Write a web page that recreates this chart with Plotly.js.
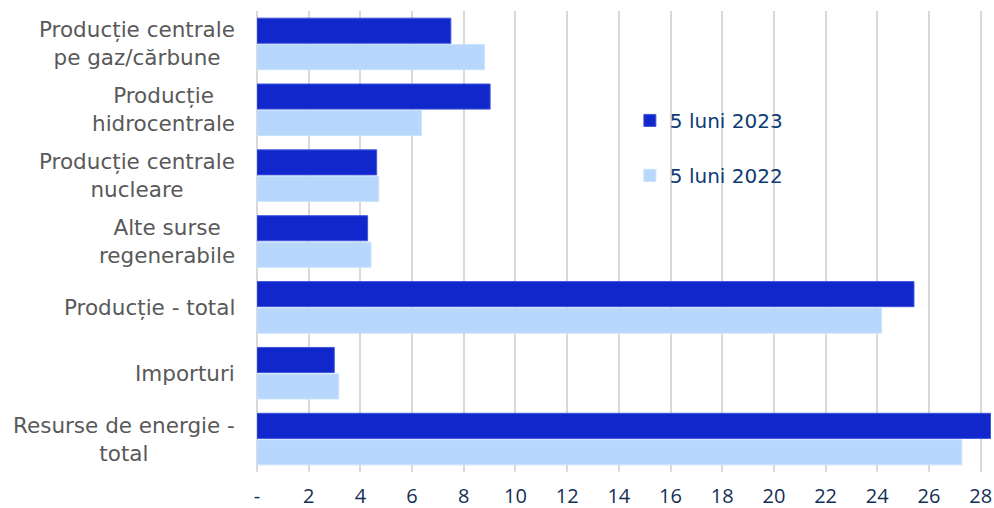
<!DOCTYPE html>
<html>
<head>
<meta charset="utf-8">
<script src="https://cdn.plot.ly/plotly-3.0.1.min.js"></script>
<style>html,body{margin:0;padding:0;background:#fff;}#chart{width:994px;height:508px;}</style>
</head>
<body>
<div id="chart"></div>
<script>
const categories = [
  "Producție centrale<br>pe gaz/cărbune",
  "Producție<br>hidrocentrale",
  "Producție centrale<br>nucleare",
  "Alte surse<br>regenerabile",
  "Producție - total",
  "Importuri",
  "Resurse de energie -<br>total"
];
const series2023Name = "5 luni 2023";
const series2022Name = "5 luni 2022";
const values2023 = [7.50, 9.02, 4.63, 4.28, 25.42, 2.99, 28.39];
const values2022 = [8.80, 6.36, 4.71, 4.41, 24.16, 3.16, 27.27];
const xTickVals = [0, 2, 4, 6, 8, 10, 12, 14, 16, 18, 20, 22, 24, 26, 28];
const xTickText = ["-", "2", "4", "6", "8", "10", "12", "14", "16", "18", "20", "22", "24", "26", "28"];

const traces = [
  {
    type: "bar", orientation: "h", name: series2023Name, legendgroup: "a",
    x: values2023, y: categories,
    marker: {color: "#1027CC", line: {color: "#4057DA", width: 1}},
    hoverinfo: "x"
  },
  {
    type: "bar", orientation: "h", name: series2022Name, legendgroup: "b",
    x: values2022, y: categories,
    marker: {color: "#B7D8FC", line: {color: "#C9E2FD", width: 1}},
    hoverinfo: "x"
  }
];

const annotations = categories.map(c => ({
  xref: "paper", yref: "y", x: 0, y: c, xanchor: "right", yanchor: "middle",
  xshift: -20, text: c, align: "center", showarrow: false,
  font: {family: "DejaVu Sans", size: 21.5, color: "#595959"}
}));

const layout = {
  width: 994, height: 508,
  margin: {l: 257, r: 3, t: 11, b: 36},
  paper_bgcolor: "#ffffff", plot_bgcolor: "#ffffff",
  barmode: "group", bargap: 0.197, bargroupgap: 0.05,
  showlegend: true,
  legend: {
    x: 0.508, y: 0.805, xanchor: "left", yanchor: "top",
    traceorder: "grouped", tracegroupgap: 26,
    font: {family: "DejaVu Sans", size: 20, color: "#0E3B74"},
    bgcolor: "rgba(0,0,0,0)"
  },
  xaxis: {
    range: [0, 28.4], tickmode: "array", tickvals: xTickVals, ticktext: xTickText,
    showgrid: true, gridcolor: "#D9D9D9", gridwidth: 2,
    zeroline: true, zerolinecolor: "#D9D9D9", zerolinewidth: 2,
    showline: false, ticks: "", ticklabelstandoff: 10,
    tickfont: {family: "Open Sans", size: 20, color: "#132F55"},
    fixedrange: true
  },
  yaxis: {
    autorange: "reversed", showticklabels: false, showgrid: false,
    zeroline: false, showline: false, ticks: "", fixedrange: true
  },
  annotations: annotations
};

Plotly.newPlot("chart", traces, layout, {displayModeBar: false, staticPlot: true});
</script>
</body>
</html>
